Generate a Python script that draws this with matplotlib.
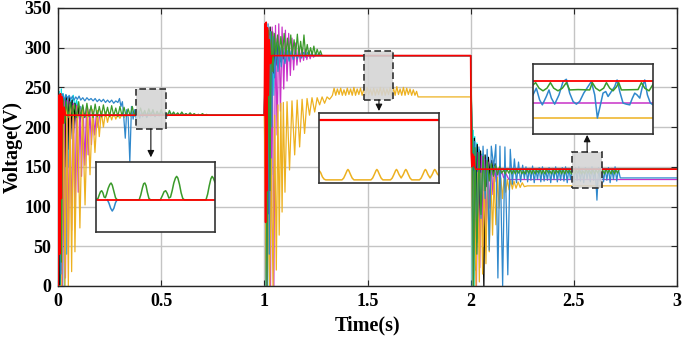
import numpy as np
import matplotlib
matplotlib.use('Agg')
import matplotlib.pyplot as plt
from matplotlib.patches import Rectangle

plt.rcParams['font.family'] = ['Liberation Serif', 'DejaVu Serif']
plt.rcParams['font.weight'] = 'bold'

# ---------------- data (time in s, voltage in V) ----------------
x_ticks = [0, 0.5, 1, 1.5, 2, 2.5, 3]
x_tick_labels = ['0', '0.5', '1', '1.5', '2', '2.5', '3']
y_ticks = [0, 50, 100, 150, 200, 250, 300, 350]

red_pts = [(0, 0), (0.004, 240), (0.008, 40), (0.012, 242), (0.016, 110), (0.020, 238), (0.025, 205),
           (0.030, 225), (0.036, 215), (1.000, 215), (1.003, 330), (1.006, 80), (1.009, 332), (1.012, 120),
           (1.015, 325), (1.019, 240), (1.024, 310), (1.030, 280), (1.036, 290), (2.000, 290), (2.003, 168),
           (2.006, 150), (2.009, 166), (2.012, 152), (2.016, 163), (2.020, 150), (2.026, 147), (3.0, 147)]

cyan_pts = [(0, 0), (0.006, 245), (0.011, 0), (0.016, 248), (0.021, 10), (0.026, 242), (0.031, 0), (0.036, 240),
            (0.041, 40), (0.046, 238), (0.052, 150), (0.058, 236), (0.066, 226), (0.074, 240), (0.082, 224),
            (0.090, 234), (0.10, 220), (0.11, 226), (0.12, 214), (0.135, 215),
            (1.0, 215), (1.004, 330), (1.008, 0), (1.012, 326), (1.016, 0), (1.020, 320), (1.025, 40), (1.030, 318),
            (1.035, 140), (1.040, 312), (1.046, 240), (1.052, 316), (1.058, 280), (1.066, 306), (1.074, 284),
            (1.082, 300), (1.09, 286), (1.10, 294), (1.115, 290),
            (2.0, 290), (2.004, 200), (2.008, 0), (2.012, 196), (2.016, 0), (2.020, 188), (2.025, 20), (2.030, 180),
            (2.036, 60), (2.042, 172), (2.048, 100), (2.055, 166), (2.062, 120), (2.070, 160), (2.078, 135),
            (2.086, 155), (2.095, 142), (2.105, 150), (2.12, 147), (3.0, 147)]

black_pts = [(0, 0), (0.008, 0), (0.014, 210), (0.020, 20), (0.028, 236), (0.034, 150), (0.040, 240), (0.047, 172),
             (0.054, 238), (0.061, 185), (0.068, 234), (0.075, 192), (0.082, 230), (0.090, 200), (0.098, 226),
             (0.106, 206), (0.115, 221), (0.125, 212), (0.135, 215),
             (1.0, 215), (1.005, 300), (1.010, 0), (1.016, 322), (1.022, 90), (1.028, 326), (1.034, 250), (1.040, 320),
             (1.047, 268), (1.054, 312), (1.061, 278), (1.068, 305), (1.076, 282), (1.084, 300), (1.093, 286),
             (1.102, 294), (1.115, 290),
             (2.0, 290), (2.006, 192), (2.012, 0), (2.018, 186), (2.025, 20), (2.032, 178), (2.040, 80), (2.048, 170),
             (2.056, 110), (2.064, 0), (2.070, 165), (2.078, 125), (2.086, 162), (2.094, 135), (2.102, 158),
             (2.110, 140), (2.118, 154), (2.128, 144), (2.14, 147), (3.0, 147)]

magenta_pts = [(0, 0), (0.012, 232), (0.022, 0), (0.030, 236), (0.036, 10), (0.044, 234), (0.050, 40), (0.058, 232),
               (0.066, 70), (0.074, 230), (0.082, 95), (0.090, 228), (0.098, 118), (0.106, 226), (0.114, 138),
               (0.122, 225), (0.130, 152), (0.138, 224), (0.146, 165), (0.154, 222), (0.162, 178), (0.170, 220),
               (0.178, 190), (0.186, 218), (0.194, 200), (0.202, 216), (0.21, 212), (0.22, 215),
               (1.0, 215), (1.008, 322), (1.015, 0), (1.022, 315), (1.030, 0), (1.038, 326), (1.046, 0), (1.054, 328),
               (1.062, 190), (1.070, 330), (1.078, 220), (1.086, 326), (1.094, 248), (1.102, 322), (1.110, 258),
               (1.118, 318), (1.126, 265), (1.134, 312), (1.142, 272), (1.150, 306), (1.158, 278), (1.166, 302),
               (1.174, 282), (1.182, 300), (1.190, 284), (1.198, 298), (1.206, 285), (1.214, 296), (1.222, 286),
               (1.230, 294), (1.238, 288), (1.246, 290),
               (2.0, 290), (2.006, 182), (2.013, 0), (2.020, 172), (2.028, 0), (2.036, 168), (2.044, 23), (2.052, 164),
               (2.060, 50), (2.068, 160), (2.076, 73), (2.084, 156), (2.092, 98), (2.100, 153), (2.108, 115),
               (2.116, 150), (2.124, 131), (2.132, 148), (2.140, 136), (2.150, 145), (2.160, 136), (2.170, 142),
               (2.185, 134), (3.0, 134)]

yellow_pts_a = [(0, 0), (0.018, 0), (0.026, 226), (0.034, 0), (0.042, 228), (0.050, 0), (0.058, 228), (0.066, 18),
                (0.074, 227), (0.082, 43), (0.094, 226), (0.106, 73), (0.118, 225), (0.131, 102), (0.143, 224),
                (0.155, 140), (0.167, 222), (0.179, 168), (0.191, 221), (0.200, 188), (0.210, 220), (0.220, 200),
                (0.230, 219), (0.240, 206), (0.250, 218), (0.260, 209), (0.270, 218), (0.280, 210), (0.290, 217),
                (0.300, 211), (0.310, 217), (0.320, 212), (0.330, 216), (0.345, 215),
                (1.0, 215), (1.010, 0), (1.018, 90), (1.026, 0), (1.034, 160), (1.042, 0), (1.050, 215), (1.058, 20),
                (1.066, 228), (1.072, 64), (1.080, 230), (1.086, 93), (1.092, 231), (1.100, 118), (1.110, 232),
                (1.122, 146), (1.134, 233), (1.147, 165), (1.159, 234), (1.171, 175), (1.183, 235), (1.195, 192),
                (1.207, 236), (1.219, 215), (1.231, 237), (1.244, 219), (1.256, 237), (1.268, 228), (1.280, 238),
                (1.292, 230), (1.304, 238), (1.316, 235), (1.325, 238)]
yellow_rip_t0, yellow_rip_dt = 1.33, 0.008
yellow_rip = [240, 249, 240, 248, 241, 249, 240, 247, 240, 249, 241, 248, 240, 250, 240, 248, 241, 249, 240, 248,
              240, 250, 241, 248, 240, 249, 240, 248, 241, 250, 240, 249, 240, 248, 241, 250, 240, 249, 240, 251,
              241, 248, 240, 250, 240, 249, 241, 248, 240, 247, 240, 245]
yellow_pts_b = [(1.745, 238), (2.0, 238), (2.005, 150), (2.010, 0), (2.018, 145), (2.026, 0), (2.034, 143),
                (2.042, 5), (2.050, 142), (2.058, 15), (2.066, 141), (2.074, 28), (2.082, 140), (2.090, 43),
                (2.098, 139), (2.106, 64), (2.114, 138), (2.122, 77), (2.130, 137), (2.138, 98), (2.146, 136),
                (2.154, 110), (2.162, 135), (2.170, 118), (2.178, 134), (2.186, 121), (2.194, 133), (2.202, 122),
                (2.210, 132), (2.220, 123), (2.230, 131), (2.240, 124), (2.250, 130), (2.260, 125), (2.275, 126),
                (3.0, 126)]

blue_pts_a = [(0, 0), (0.008, 210), (0.014, 15), (0.022, 242), (0.030, 234), (0.038, 241), (0.046, 236),
              (0.054, 240), (0.062, 235), (0.070, 239), (0.078, 234), (0.086, 238), (0.094, 235), (0.102, 239),
              (0.110, 234), (0.120, 237), (0.130, 233), (0.140, 237), (0.150, 234), (0.160, 236), (0.170, 233),
              (0.180, 236), (0.190, 232), (0.200, 235), (0.210, 232), (0.220, 235), (0.230, 231), (0.240, 234),
              (0.250, 231), (0.260, 234), (0.270, 230), (0.280, 233), (0.290, 231), (0.298, 236), (0.305, 226),
              (0.312, 232), (0.318, 215), (0.326, 186), (0.333, 222), (0.340, 212), (0.348, 156), (0.356, 226),
              (0.364, 210), (0.372, 222), (0.380, 209), (0.388, 221), (0.396, 211), (0.404, 219)]
blue_rip1_t0, blue_rip1_dt = 0.41, 0.01
blue_rip1 = [213, 219, 212, 218, 214, 220, 213, 218, 214, 219, 215, 218, 214, 219, 215, 218, 215, 217, 215, 218,
             215, 217, 215, 217, 215, 216, 215, 216, 215, 215]
blue_pts_b = [(0.71, 215), (1.0, 215), (1.006, 326), (1.012, 0), (1.018, 330), (1.024, 40), (1.030, 320),
              (1.036, 200), (1.042, 314), (1.050, 262), (1.058, 306), (1.066, 270), (1.074, 301), (1.082, 276),
              (1.090, 299), (1.100, 280), (1.110, 297), (1.120, 283), (1.130, 296), (1.140, 285), (1.150, 295),
              (1.160, 286), (1.170, 294), (1.180, 287), (1.190, 294), (1.200, 288), (1.210, 294), (1.220, 289),
              (1.230, 293), (1.240, 289), (1.250, 293), (1.260, 290), (1.270, 292), (1.280, 290), (2.0, 290),
              (2.006, 188), (2.012, 0), (2.020, 182), (2.030, 55), (2.040, 175), (2.050, 85), (2.060, 176),
              (2.070, 110), (2.080, 172), (2.090, 45), (2.100, 176), (2.112, 150), (2.122, 178), (2.132, 10),
              (2.142, 176), (2.155, 0), (2.166, 175), (2.180, 14), (2.192, 172), (2.202, 128), (2.212, 160),
              (2.222, 130), (2.232, 156), (2.242, 131), (2.252, 152)]
blue_rip2_t0, blue_rip2_dt = 2.26, 0.008
blue_rip2 = [135, 150, 131, 148, 133, 151, 130, 147, 134, 149, 131, 150, 132, 146, 133, 149, 130, 148, 134, 150,
             131, 147, 133, 149, 132, 150, 130, 148, 134, 146, 131, 149, 133, 150, 132, 147, 130, 149, 134, 148,
             131, 150, 133, 147, 108, 149, 132, 150, 131, 147, 133, 149, 130, 148, 134, 150, 132, 147]
blue_pts_c = [(2.725, 136), (3.0, 136)]

green_pts_a = [(0, 0), (0.010, 220), (0.016, 30), (0.024, 236), (0.032, 205), (0.040, 232)]
green_rip1_t0, green_rip1_dt = 0.05, 0.01
green_rip1 = [212, 231, 213, 229, 212, 232, 213, 228, 212, 230, 213, 227, 212, 229, 213, 226, 213, 228, 214, 225,
              213, 227, 214, 224, 213, 226, 214, 225, 214, 223, 214, 226, 214, 222, 214, 224, 215, 221, 214, 223,
              215, 222, 214, 220, 215, 222, 215, 219, 215, 221, 215, 219, 215, 218, 215, 219, 215, 217, 215, 218,
              215, 217, 215, 216, 215, 217, 215, 216]
green_pts_b = [(0.73, 215), (1.0, 215), (1.007, 318), (1.013, 0), (1.020, 322), (1.027, 120), (1.034, 320),
               (1.041, 270), (1.048, 318)]
green_rip2_t0, green_rip2_dt = 1.056, 0.008
green_rip2 = [292, 316, 290, 314, 291, 318, 290, 312, 291, 316, 290, 310, 292, 317, 291, 308, 290, 316, 291, 304,
              290, 300, 291, 302, 290, 298, 291, 296, 290]
green_pts_c = [(1.29, 290), (2.0, 290), (2.008, 178), (2.014, 0), (2.021, 174), (2.030, 40), (2.040, 168),
               (2.050, 90), (2.060, 163), (2.070, 120), (2.080, 158), (2.090, 132), (2.100, 154), (2.110, 138),
               (2.120, 152), (2.130, 140), (2.140, 150), (2.150, 142)]
green_rip3_t0, green_rip3_dt = 2.16, 0.008
green_rip3 = [146, 141, 147, 142, 146, 141, 147, 141, 146, 142, 147, 141, 145, 141, 147, 142, 146, 141, 147, 141,
              146, 142, 147, 141, 146, 141, 147, 142, 145, 141, 147, 141, 146, 142, 147, 141, 146, 141, 147, 142,
              146, 141, 147, 141, 146, 142, 147, 141, 145, 141, 147, 142, 146, 141, 147, 141, 146, 142, 147, 141,
              146, 141, 147, 142, 146, 141, 147, 141, 146, 142, 147]
green_pts_d = [(2.73, 147), (3.0, 147)]

# zoom windows (time range, voltage range) of the dashed boxes
zoom1_t, zoom1_v = (0.377, 0.523), (197.7, 248.0)
zoom2_t, zoom2_v = (1.485, 1.626), (234.2, 295.9)
zoom3_t, zoom3_v = (2.492, 2.637), (123.4, 168.7)

# inset contents
in1_ylim = (205.8, 225.8)
in1_red = [(0.377, 215), (0.523, 215)]
in1_green = [(0.377, 215.0), (0.3795, 215.4), (0.381, 216.4), (0.3825, 217.3), (0.384, 217.6), (0.3855, 217.0),
             (0.387, 215.8), (0.3885, 215.6), (0.390, 216.6), (0.392, 218.3), (0.394, 219.4), (0.3955, 219.8),
             (0.397, 219.2), (0.399, 217.4), (0.401, 215.6), (0.403, 215.0), (0.430, 215.0), (0.432, 216.4),
             (0.434, 218.4), (0.4355, 219.6), (0.437, 219.8), (0.4385, 219.0), (0.440, 217.2), (0.442, 215.4),
             (0.444, 215.0), (0.456, 215.0), (0.4585, 216.2), (0.4605, 217.3), (0.4625, 217.6), (0.4645, 216.8),
             (0.4665, 215.5), (0.4685, 215.8), (0.4705, 217.6), (0.4725, 219.8), (0.4745, 221.2), (0.476, 221.7),
             (0.4775, 221.2), (0.4795, 219.4), (0.4815, 217.0), (0.4835, 215.4), (0.4855, 215.0), (0.512, 215.0),
             (0.514, 216.6), (0.516, 219.0), (0.518, 221.0), (0.5195, 221.7), (0.521, 221.2), (0.523, 220.0)]
in1_blue = [(0.391, 215.0), (0.393, 214.0), (0.395, 212.6), (0.397, 211.8), (0.399, 212.6), (0.401, 214.2),
            (0.403, 215.0)]

in2_ylim = (237.4, 295.9)
in2_red = [(1.485, 290), (1.626, 290)]
in2_yellow = [(1.485, 248.0), (1.487, 246.0), (1.489, 242.5), (1.491, 240.6), (1.493, 240.0), (1.512, 240.0),
              (1.514, 241.5), (1.516, 244.5), (1.518, 247.8), (1.519, 248.7), (1.520, 247.8), (1.522, 244.5),
              (1.524, 241.5), (1.526, 240.0), (1.546, 240.0), (1.548, 241.5), (1.550, 244.5), (1.552, 247.8),
              (1.553, 248.7), (1.554, 247.8), (1.556, 244.5), (1.558, 241.5), (1.560, 240.0), (1.569, 240.0),
              (1.571, 241.5), (1.573, 244.5), (1.575, 247.8), (1.576, 248.7), (1.577, 247.8), (1.579, 244.5),
              (1.5815, 241.6), (1.584, 244.5), (1.586, 247.8), (1.587, 248.7), (1.588, 247.8), (1.590, 244.5),
              (1.592, 241.5), (1.594, 240.0), (1.603, 240.0), (1.605, 241.5), (1.607, 244.5), (1.609, 247.8),
              (1.610, 248.7), (1.611, 247.8), (1.613, 244.5), (1.6155, 241.6), (1.618, 244.5), (1.620, 247.8),
              (1.621, 248.7), (1.622, 247.8), (1.624, 245.0), (1.626, 243.5)]

in3_ylim = (116.9, 156.3)
in3_red = [(2.492, 147), (2.637, 147)]
in3_magenta = [(2.492, 134.3), (2.637, 134.3)]
in3_yellow = [(2.492, 125.9), (2.637, 125.9)]
in3_green = [(2.492, 144.5), (2.4952, 145.8), (2.4993, 142.7), (2.5041, 141.2), (2.5089, 142.7), (2.5130, 145.8),
             (2.5170, 142.7), (2.5222, 141.2), (2.5275, 142.7), (2.5323, 145.8), (2.5363, 141.7), (2.5464, 141.9),
             (2.5605, 141.7), (2.5637, 145.8), (2.5678, 142.7), (2.5726, 141.2), (2.5774, 142.7), (2.5807, 145.8),
             (2.5847, 142.7), (2.5887, 141.2), (2.5928, 143.4), (2.5956, 145.8), (2.5988, 141.7), (2.6189, 141.9),
             (2.6230, 145.8), (2.6270, 142.7), (2.6322, 141.2), (2.6371, 144.9)]
in3_blue = [(2.492, 138.9), (2.496, 142.7), (2.500, 136.1), (2.5033, 133.3), (2.5081, 138.0), (2.5113, 141.7),
            (2.5142, 137.1), (2.5182, 133.7), (2.5234, 138.9), (2.5283, 146.4), (2.5323, 147.7), (2.5363, 139.9),
            (2.5404, 135.2), (2.5444, 133.7), (2.5484, 135.2), (2.5533, 139.9), (2.5585, 143.6), (2.5625, 146.4),
            (2.5666, 138.9), (2.5698, 125.9), (2.5726, 131.5), (2.5766, 139.9), (2.5799, 140.8), (2.5827, 138.0),
            (2.5867, 140.8), (2.5907, 143.6), (2.5936, 147.3), (2.5968, 140.8), (2.6008, 134.3), (2.6048, 133.7),
            (2.6089, 133.3), (2.6121, 137.1), (2.6149, 139.9), (2.6177, 138.9), (2.6210, 137.1), (2.6242, 143.6),
            (2.6270, 147.3), (2.6302, 138.9), (2.6338, 134.3), (2.6371, 133.3)]

# ---------------- helpers ----------------
def knots(pairs):
    a = np.array(pairs, dtype=float)
    return a[:, 0], a[:, 1]

def ripple(t0, dt, vals):
    return t0 + dt * np.arange(len(vals)), np.array(vals, dtype=float)

def join(*pieces):
    return (np.concatenate([p[0] for p in pieces]), np.concatenate([p[1] for p in pieces]))

C_BLUE = '#2f88cc'
C_YEL = '#edb120'
C_MAG = '#c832c8'
C_GRN = '#3a9a2a'
C_CYAN = '#00e0e0'
C_BLK = '#000000'
C_RED = '#ff0000'

series = [
    (knots(cyan_pts), C_CYAN),
    (knots(black_pts), C_BLK),
    (knots(magenta_pts), C_MAG),
    (join(knots(yellow_pts_a), ripple(yellow_rip_t0, yellow_rip_dt, yellow_rip), knots(yellow_pts_b)), C_YEL),
    (join(knots(blue_pts_a), ripple(blue_rip1_t0, blue_rip1_dt, blue_rip1), knots(blue_pts_b),
          ripple(blue_rip2_t0, blue_rip2_dt, blue_rip2), knots(blue_pts_c)), C_BLUE),
    (join(knots(green_pts_a), ripple(green_rip1_t0, green_rip1_dt, green_rip1), knots(green_pts_b),
          ripple(green_rip2_t0, green_rip2_dt, green_rip2), knots(green_pts_c),
          ripple(green_rip3_t0, green_rip3_dt, green_rip3), knots(green_pts_d)), C_GRN),
]

# ---------------- figure ----------------
fig = plt.figure(figsize=(6.85, 3.4), dpi=100)
ax = fig.add_axes([0.0847, 0.159, 0.9036, 0.8176])

for (t, v), c in series:
    ax.plot(t, v, color=c, lw=0.9, zorder=2)
rt, rv = knots(red_pts)
ax.plot(rt, rv, color=C_RED, lw=1.2, zorder=3)

ax.set_xlim(0, 3)
ax.set_ylim(0, 350)
ax.set_xticks(x_ticks)
ax.set_xticklabels(x_tick_labels)
ax.set_yticks(y_ticks)
ax.tick_params(direction='in', length=4, labelsize=13, top=True, right=True, pad=5, color='#262626')
for lab in ax.get_xticklabels() + ax.get_yticklabels():
    lab.set_fontweight('bold')
ax.grid(True, color='#c4c4c4', lw=1.0)
ax.set_axisbelow(True)
for s in ax.spines.values():
    s.set_color('#262626')
    s.set_linewidth(1.0)
ax.set_xlabel('Time(s)', fontsize=14.5, fontweight='bold')
ax.set_ylabel('Voltage(V)', fontsize=14.5, fontweight='bold')
ax.xaxis.set_label_coords(0.5, -0.105)
ax.yaxis.set_label_coords(-0.057, 0.5)

# dashed zoom boxes
for (t0, t1), (v0, v1) in [(zoom1_t, zoom1_v), (zoom2_t, zoom2_v), (zoom3_t, zoom3_v)]:
    ax.add_patch(Rectangle((t0, v0), t1 - t0, v1 - v0, facecolor=(0.83, 0.83, 0.83, 0.88),
                           edgecolor='#333333', lw=1.2, ls=(0, (4, 2)), zorder=5))

arrow_kw = dict(arrowstyle='-|>', color='#111111', lw=0.8, mutation_scale=10, shrinkA=0, shrinkB=0)
ax.annotate('', xy=((zoom1_t[0] + zoom1_t[1]) / 2, 162.0), xytext=((zoom1_t[0] + zoom1_t[1]) / 2, zoom1_v[0]),
            arrowprops=arrow_kw, zorder=6)
ax.annotate('', xy=((zoom2_t[0] + zoom2_t[1]) / 2, 220.3), xytext=((zoom2_t[0] + zoom2_t[1]) / 2, zoom2_v[0]),
            arrowprops=arrow_kw, zorder=6)
ax.annotate('', xy=((zoom3_t[0] + zoom3_t[1]) / 2, 190.1), xytext=((zoom3_t[0] + zoom3_t[1]) / 2, zoom3_v[1]),
            arrowprops=arrow_kw, zorder=6)

def make_inset(rect, tlim, vlim):
    a = fig.add_axes(rect, zorder=10)
    a.set_xlim(*tlim)
    a.set_ylim(*vlim)
    a.set_xticks([])
    a.set_yticks([])
    a.set_facecolor('white')
    for s in a.spines.values():
        s.set_color('#333333')
        s.set_linewidth(1.2)
    return a

ia1 = make_inset([0.1401, 0.3176, 0.1737, 0.2059], zoom1_t, in1_ylim)
ia1.plot(*knots(in1_blue), color=C_BLUE, lw=1.1)
ia1.plot(*knots(in1_green), color=C_GRN, lw=1.1)
ia1.plot(*knots(in1_red), color=C_RED, lw=1.3)

ia2 = make_inset([0.4657, 0.4618, 0.1752, 0.2059], zoom2_t, in2_ylim)
ia2.plot(*knots(in2_yellow), color=C_YEL, lw=1.1)
ia2.plot(*knots(in2_red), color=C_RED, lw=1.6)

ia3 = make_inset([0.7781, 0.6059, 0.1752, 0.2059], zoom3_t, in3_ylim)
ia3.plot(*knots(in3_yellow), color=C_YEL, lw=1.1)
ia3.plot(*knots(in3_magenta), color=C_MAG, lw=1.1)
ia3.plot(*knots(in3_blue), color=C_BLUE, lw=1.1)
ia3.plot(*knots(in3_green), color=C_GRN, lw=1.1)
ia3.plot(*knots(in3_red), color=C_RED, lw=1.3)

fig.savefig('out.png', dpi=100)
